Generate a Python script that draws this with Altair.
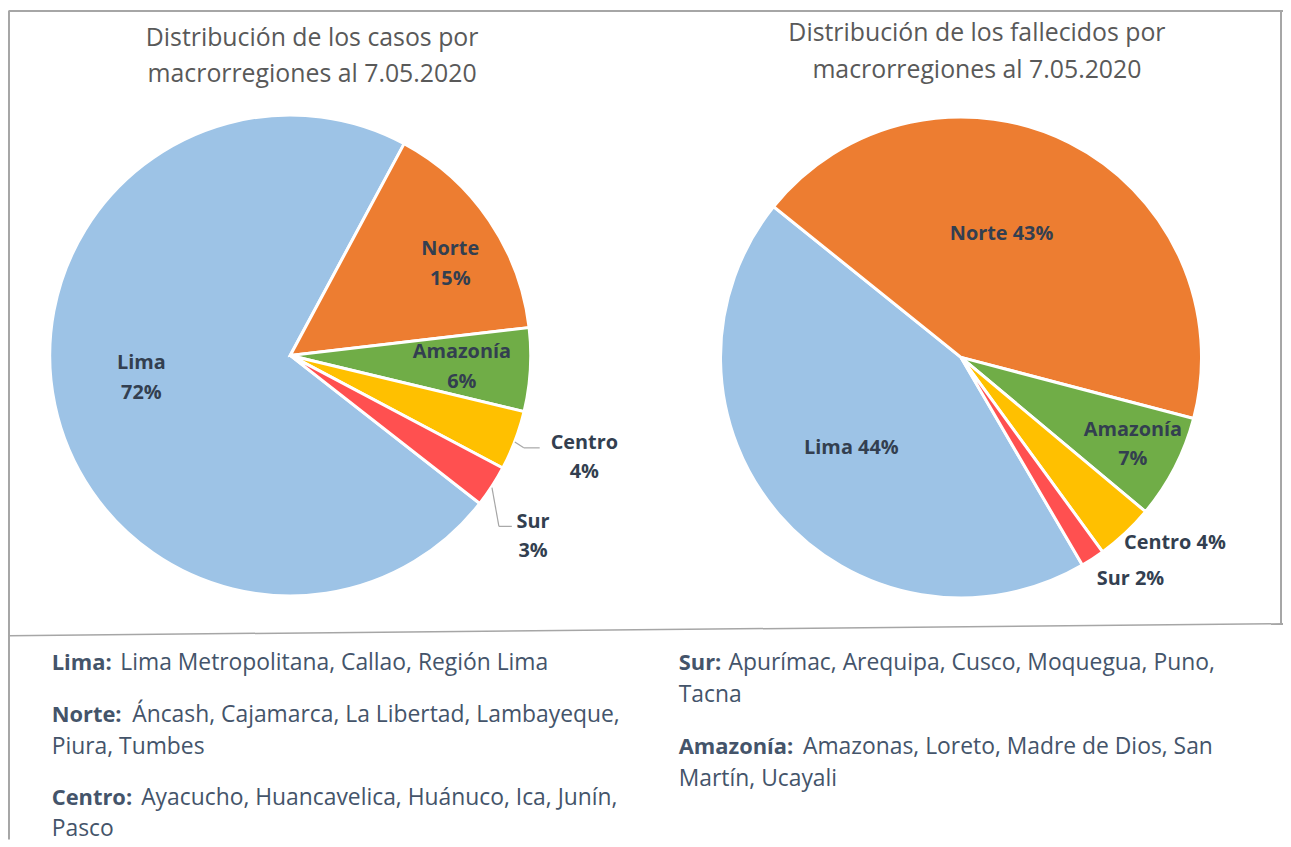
import math
import altair as alt
import pandas as pd

# ---------------- data ----------------
regions = ["Lima", "Norte", "Amazonía", "Centro", "Sur"]
casos_pct = [72.3, 15.3, 5.6, 4.0, 2.8]
fallecidos_pct = [44.2, 43.3, 7.0, 3.9, 1.6]
colors = ["#9DC3E6", "#ED7D31", "#70AD47", "#FFC000", "#FF5050"]

title_casos = ["Distribución de los casos por", "macrorregiones al 7.05.2020"]
title_fallecidos = ["Distribución de los fallecidos por", "macrorregiones al 7.05.2020"]

note_keys_left = ["Lima:", "Norte:", "Centro:"]
note_text_left = [
    ["Lima Metropolitana, Callao, Región Lima"],
    ["Áncash, Cajamarca, La Libertad, Lambayeque,", "Piura, Tumbes"],
    ["Ayacucho, Huancavelica, Huánuco, Ica, Junín,", "Pasco"],
]
note_keys_right = ["Sur:", "Amazonía:"]
note_text_right = [
    ["Apurímac, Arequipa, Cusco, Moquegua, Puno,", "Tacna"],
    ["Amazonas, Loreto, Madre de Dios, San", "Martín, Ucayali"],
]

# ---------------- style ----------------
FONT = "Open Sans"
LABEL_COLOR = "#333F50"
NOTE_COLOR = "#44546A"
TITLE_COLOR = "#595959"
BORDER = "#A6A6A6"
W, H = 1283, 834
NOTE_SIZE = 23
KEY_SIZE = 22
TITLE_SIZE = 25
LABEL_SIZE = 20

one = pd.DataFrame({"k": [0]})


def pie(values, start_deg, cx, cy, r, seps, label_layout):
    df = pd.DataFrame({"region": regions, "pct": values, "idx": list(range(len(regions)))})
    df["label"] = [f"{g}{s}{round(v)}%" for g, v, s in zip(regions, values, seps)]
    a0 = math.radians(start_deg)
    theta = alt.Theta(
        "pct:Q", stack=True,
        scale=alt.Scale(domain=[0, float(sum(values))], range=[a0, a0 + 2 * math.pi]),
    )
    base = alt.Chart(df)
    arcs = base.mark_arc(radius=r, stroke="white", strokeWidth=3).encode(
        theta=theta,
        order=alt.Order("idx:Q"),
        color=alt.Color("region:N", scale=alt.Scale(domain=regions, range=colors), legend=None),
        x=alt.value(cx),
        y=alt.value(cy),
    )
    layers = [arcs]
    for reg, (rad, dx, dy) in label_layout.items():
        t = base.transform_calculate(
            txt=f"datum.region === '{reg}' ? datum.label : ''"
        ).mark_text(
            radius=rad, dx=dx, dy=dy, font=FONT, fontSize=LABEL_SIZE, fontWeight="bold",
            color=LABEL_COLOR, lineBreak="\n", lineHeight=30,
            align="center", baseline="middle",
        ).encode(
            theta=theta, order=alt.Order("idx:Q"), text="txt:N",
            x=alt.value(cx), y=alt.value(cy),
        )
        layers.append(t)
    return alt.layer(*layers)


pie_casos = pie(
    casos_pct, 128.0, 284, 347, 242,
    ["\n", "\n", "\n", "\n", "\n"],
    {
        "Lima": (150, -3, -23),
        "Norte": (185, 8, -3),
        "Amazonía": (172, 1, -14),
        "Centro": (310, 6, -22),
        "Sur": (302, -9, 3),
    },
)
pie_fall = pie(
    fallecidos_pct, 149.7, 959, 349, 242,
    [" ", " ", "\n", " ", " "],
    {
        "Lima": (143, -2, -2),
        "Norte": (135, -20, -4),
        "Amazonía": (189, 5, -14),
        "Centro": (280, 24, -18),
        "Sur": (277, 19, -9),
    },
)


def rule(x, y, x2, y2, color=BORDER, width=1.5):
    return alt.Chart(one).mark_rule(color=color, strokeWidth=width).encode(
        x=alt.value(x), y=alt.value(y), x2=alt.value(x2), y2=alt.value(y2)
    )


deco = [
    rule(1, 0, 1, H, width=2),           # left border
    rule(1, 0.5, W, 0.5, width=2),       # top border
    rule(1281, 0, 1281, 617, width=2),   # right border
    rule(1, 629, W, 617, width=1.5),     # divider
    # leader lines (casos)
    rule(510, 434, 519, 440, width=1.2),
    rule(519, 440, 535, 440, width=1.2),
    rule(487, 480, 494, 519, width=1.2),
    rule(494, 519, 507, 519, width=1.2),
]


def text(lines, x, y, size, color, weight="normal", align="left", lh=32):
    return alt.Chart(one).mark_text(
        font=FONT, fontSize=size, fontWeight=weight, color=color, align=align,
        baseline="middle", lineHeight=lh,
    ).encode(x=alt.value(x), y=alt.value(y), text=alt.value(lines))


titles = [
    text(title_casos, 306, 28, TITLE_SIZE, TITLE_COLOR, align="center", lh=36),
    text(title_fallecidos, 975, 23, TITLE_SIZE, TITLE_COLOR, align="center", lh=37),
]

notes = []
left_y = [657, 709, 792]
left_x = [113, 125, 134]
for key, lines, y, xr in zip(note_keys_left, note_text_left, left_y, left_x):
    notes.append(text([key], 44, y, KEY_SIZE, NOTE_COLOR, weight="bold"))
    notes.append(text([lines[0]], xr, y, NOTE_SIZE, NOTE_COLOR))
    if len(lines) > 1:
        notes.append(text(lines[1:], 44, y + 32, NOTE_SIZE, NOTE_COLOR))
right_y = [657, 741]
right_x = [725, 800]
for key, lines, y, xr in zip(note_keys_right, note_text_right, right_y, right_x):
    notes.append(text([key], 675, y, KEY_SIZE, NOTE_COLOR, weight="bold"))
    notes.append(text([lines[0]], xr, y, NOTE_SIZE, NOTE_COLOR))
    if len(lines) > 1:
        notes.append(text(lines[1:], 675, y + 32, NOTE_SIZE, NOTE_COLOR))

chart = alt.layer(pie_casos, pie_fall, *deco, *titles, *notes).resolve_scale(
    theta="independent"
).properties(
    width=W, height=H, padding=0, background="white",
    autosize=alt.AutoSizeParams(type="none"),
).configure_view(strokeWidth=0, strokeOpacity=0, stroke="transparent")

chart.save("out.html", embed_options={"renderer": "svg", "actions": False})
